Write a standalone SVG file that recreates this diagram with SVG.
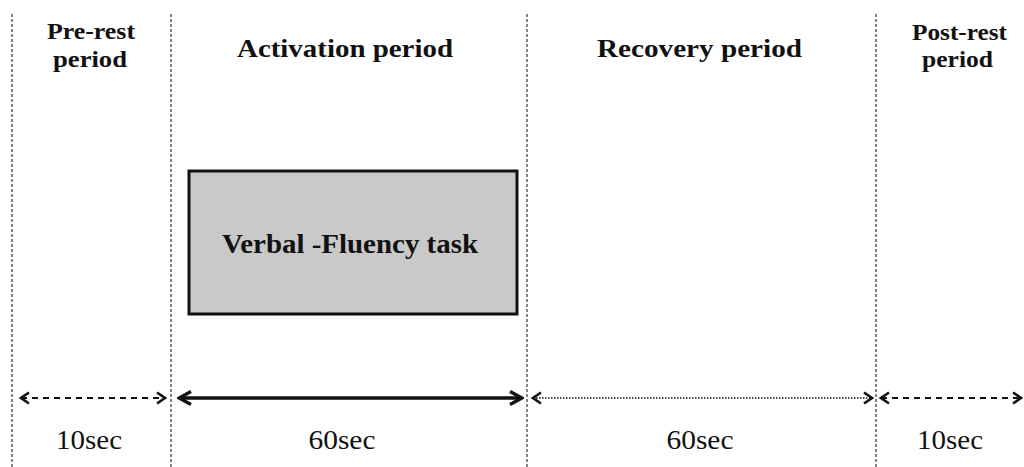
<svg xmlns="http://www.w3.org/2000/svg" width="1024" height="467" viewBox="0 0 1024 467">
<defs>
<style>
.sep{stroke:#333;stroke-width:1.2;stroke-dasharray:3,2;fill:none}
.hd{font-family:"Liberation Serif",serif;font-weight:bold;font-size:24px;fill:#111;text-anchor:middle}
.lb{font-family:"Liberation Serif",serif;font-size:27px;fill:#111;text-anchor:middle}
.ar{fill:none;stroke:#111}
</style>
<marker id="hs" viewBox="0 0 12 14" refX="10" refY="7" markerWidth="12" markerHeight="14" markerUnits="userSpaceOnUse" orient="auto-start-reverse">
<path d="M2,1.5 L10,7 L2,12.5" fill="none" stroke="#111" stroke-width="2.6"/>
</marker>
<marker id="hb" viewBox="0 0 16 16" refX="14" refY="8" markerWidth="16" markerHeight="16" markerUnits="userSpaceOnUse" orient="auto-start-reverse">
<path d="M2,1.5 L14,8 L2,14.5" fill="none" stroke="#111" stroke-width="3.4"/>
</marker>
</defs>
<rect width="1024" height="467" fill="#fff"/>
<g id="separators">
<line class="sep" x1="12" y1="14" x2="12" y2="467"/>
<line class="sep" x1="171" y1="14" x2="171" y2="467"/>
<line class="sep" x1="527" y1="14" x2="527" y2="467"/>
<line class="sep" x1="876" y1="14" x2="876" y2="467"/>
</g>
<g id="pre-rest">
<text class="hd" x="91" y="39" textLength="88" lengthAdjust="spacingAndGlyphs">Pre-rest</text>
<text class="hd" x="90" y="67" textLength="74" lengthAdjust="spacingAndGlyphs">period</text>
<text class="lb" x="89" y="449" textLength="66" lengthAdjust="spacingAndGlyphs">10sec</text>
</g>
<g id="activation">
<text class="hd" x="345" y="57" style="font-size:25px" textLength="216" lengthAdjust="spacingAndGlyphs">Activation period</text>
<text class="lb" x="342" y="449" textLength="67" lengthAdjust="spacingAndGlyphs">60sec</text>
</g>
<g id="recovery">
<text class="hd" x="699.5" y="57" style="font-size:25px" textLength="205" lengthAdjust="spacingAndGlyphs">Recovery period</text>
<text class="lb" x="700" y="449" textLength="67" lengthAdjust="spacingAndGlyphs">60sec</text>
</g>
<g id="post-rest">
<text class="hd" x="959.5" y="40" textLength="95" lengthAdjust="spacingAndGlyphs">Post-rest</text>
<text class="hd" x="957.5" y="67" textLength="71" lengthAdjust="spacingAndGlyphs">period</text>
<text class="lb" x="950" y="449" textLength="66" lengthAdjust="spacingAndGlyphs">10sec</text>
</g>
<g id="task">
<rect x="189" y="171" width="328" height="143" fill="#c9c9c9" stroke="#111" stroke-width="3"/>
<text class="hd" x="350" y="253" style="font-size:28px" textLength="256" lengthAdjust="spacingAndGlyphs">Verbal -Fluency task</text>
</g>
<g id="connectors">
<line class="ar" x1="21" y1="398" x2="165" y2="398" stroke-width="1.8" stroke-dasharray="6,5" marker-start="url(#hs)" marker-end="url(#hs)"/>
<line class="ar" x1="179" y1="398" x2="522" y2="398" stroke-width="3.4" marker-start="url(#hb)" marker-end="url(#hb)"/>
<line class="ar" x1="533" y1="398" x2="872" y2="398" stroke-width="1.6" stroke-dasharray="1.5,1.5" marker-start="url(#hs)" marker-end="url(#hs)"/>
<line class="ar" x1="881" y1="398" x2="1021" y2="398" stroke-width="1.8" stroke-dasharray="6,5" marker-start="url(#hs)" marker-end="url(#hs)"/>
</g>
</svg>
